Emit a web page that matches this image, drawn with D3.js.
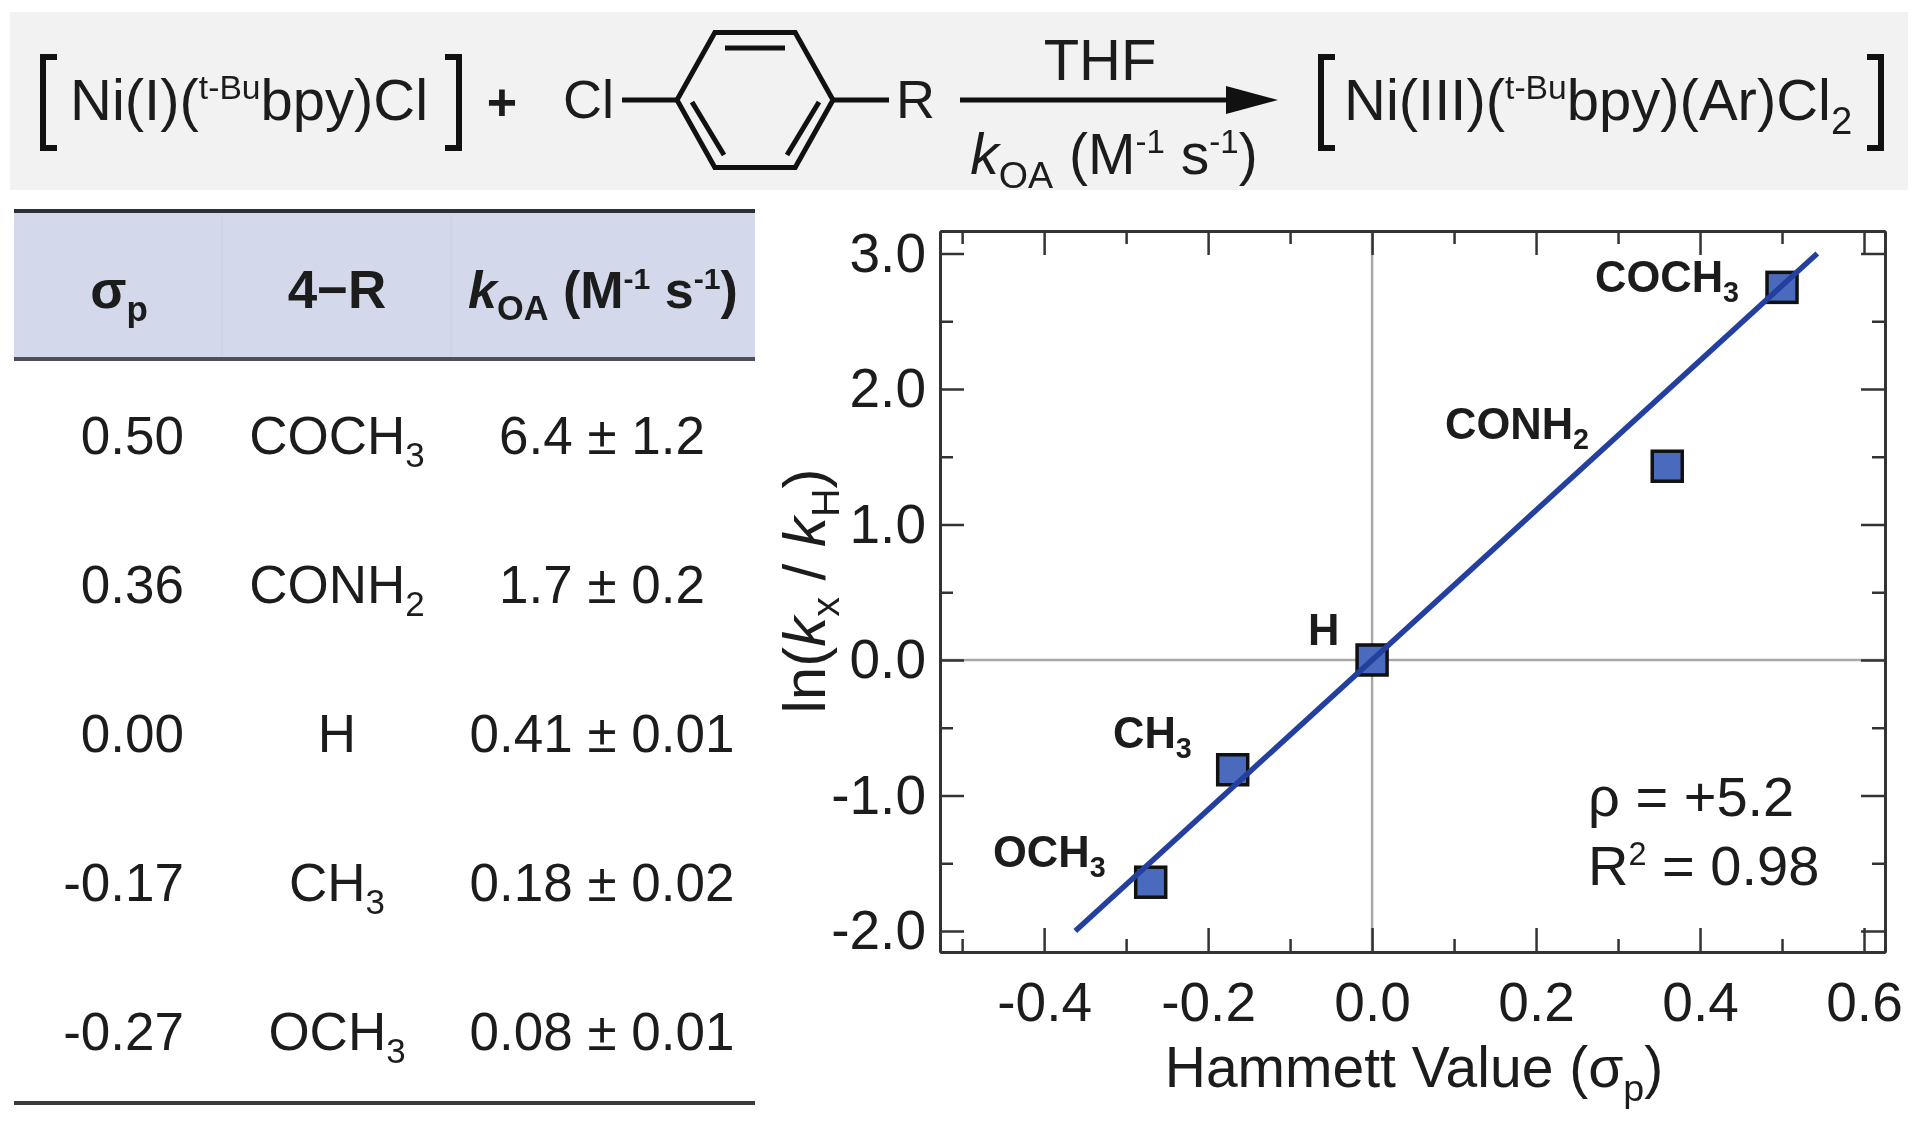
<!DOCTYPE html>
<html>
<head>
<meta charset="utf-8">
<script src="https://cdn.jsdelivr.net/npm/d3@7"></script>
<style>
	html, body { margin: 0; padding: 0; background: #fff; }
	svg { display: block; filter: blur(0.7px); }
	text { font-family: "Liberation Sans", Arial, sans-serif; fill: #1c1c1c; }
</style>
</head>
<body>
<svg id="fig" width="1920" height="1121"></svg>
<script>
// table + plot values
var sigmaLabels = ["0.50", "0.36", "0.00", "-0.17", "-0.27"];
var sigmaValues = [0.50, 0.36, 0.00, -0.17, -0.27];
var groups = ["COCH", "CONH", "H", "CH", "OCH"];
var groupSubs = ["3", "2", "", "3", "3"];
var rates = ["6.4 ± 1.2", "1.7 ± 0.2", "0.41 ± 0.01", "0.18 ± 0.02", "0.08 ± 0.01"];
var lnRatios = [2.75, 1.43, 0.00, -0.81, -1.64];

var fitX = [-0.362, 0.543];
var fitY = [-2.0, 3.0];

var xMajor = [-0.4, -0.2, 0.0, 0.2, 0.4, 0.6];
var xMinor = [-0.5, -0.3, -0.1, 0.1, 0.3, 0.5];
var yMajor = [-2, -1, 0, 1, 2, 3];
var yMinor = [-1.5, -0.5, 0.5, 1.5, 2.5];

var svg = d3.select("#fig");
var BANNER_FS = 58;
var TABLE_FS = 53;
var AXIS_FS = 55;

// text with sub/superscripts: parts are [string, "sub"|"sup"|"", italic]
function rich(parent, x, y, parts, size, anchor, weight) {
	var t = parent.append("text")
		.attr("x", x).attr("y", y)
		.attr("font-size", size)
		.attr("text-anchor", anchor || "start")
		.attr("font-weight", weight || "normal");
	var shift = 0;
	parts.forEach(function(p) {
		var want = p[1] == "sub" ? 0.24 * size : (p[1] == "sup" ? -0.36 * size : 0);
		var partSize = p[1] == "sub" ? size * 0.66 : (p[1] == "sup" ? size * 0.58 : size);
		t.append("tspan")
			.attr("dy", want - shift)
			.attr("font-size", partSize)
			.attr("font-style", p[2] ? "italic" : "normal")
			.text(p[0]);
		shift = want;
	});
	return t;
}

// ---- reaction banner
var banner = svg.append("g");
banner.append("rect")
	.attr("x", 10).attr("y", 12).attr("width", 1898).attr("height", 178)
	.attr("fill", "#f2f2f2");

function sqBracket(x0, w, open) {
	var bar = open ? x0 : x0 + w;
	var tip = open ? x0 + w : x0;
	banner.append("path")
		.attr("d", "M" + tip + ",57H" + bar + "V148H" + tip)
		.attr("fill", "none").attr("stroke", "#111").attr("stroke-width", 6);
}
sqBracket(43, 14, true);
sqBracket(445, 14, false);
sqBracket(1321, 14, true);
sqBracket(1867, 14, false);

rich(banner, 70, 120, [["Ni(I)(", ""], ["t-Bu", "sup"], ["bpy)Cl", ""]], BANNER_FS);
rich(banner, 502, 120, [["+", ""]], 52, "middle", "bold");
rich(banner, 563, 118, [["Cl", ""]], 54);
rich(banner, 896, 118, [["R", ""]], 54);

// benzene ring
var ringC = [755, 100];
var ringPts = d3.range(6).map(function(i) {
	var a = i * Math.PI / 3;
	return [ringC[0] + 78 * Math.cos(a) * (i % 3 == 0 ? 1 : 1.03), ringC[1] + 78 * Math.sin(a)];
});
banner.append("path")
	.attr("d", d3.line()(ringPts) + "Z")
	.attr("fill", "none").attr("stroke", "#111").attr("stroke-width", 5).attr("stroke-linejoin", "miter");
[[725, 48, 785, 48], [692, 102, 724, 155], [819, 102, 787, 155], [622, 100, 677, 100], [833, 100, 889, 100]].forEach(function(s) {
	banner.append("line")
		.attr("x1", s[0]).attr("y1", s[1]).attr("x2", s[2]).attr("y2", s[3])
		.attr("stroke", "#111").attr("stroke-width", 5);
});

// arrow
banner.append("line")
	.attr("x1", 960).attr("y1", 100).attr("x2", 1232).attr("y2", 100)
	.attr("stroke", "#111").attr("stroke-width", 5);
banner.append("path")
	.attr("d", d3.line()([[1226, 86], [1278, 100], [1226, 114]]) + "Z")
	.attr("fill", "#111");
rich(banner, 1100, 80, [["THF", ""]], BANNER_FS, "middle");
rich(banner, 1114, 174, [["k", "", true], ["OA", "sub"], [" (M", ""], ["-1", "sup"], [" s", ""], ["-1", "sup"], [")", ""]], 57, "middle");
rich(banner, 1344, 120, [["Ni(III)(", ""], ["t-Bu", "sup"], ["bpy)(Ar)Cl", ""], ["2", "sub"]], BANNER_FS);

// ---- table
var table = svg.append("g");
var tableX = [14, 755];
table.append("rect")
	.attr("x", tableX[0]).attr("y", 211).attr("width", tableX[1] - tableX[0]).attr("height", 148)
	.attr("fill", "#d3d9eb");
[222, 451].forEach(function(x) {
	table.append("line").attr("x1", x).attr("x2", x).attr("y1", 214).attr("y2", 357)
		.attr("stroke", "#ccd3e6").attr("stroke-width", 1.5);
});
table.append("line").attr("x1", tableX[0]).attr("x2", tableX[1]).attr("y1", 211).attr("y2", 211)
	.attr("stroke", "#2b2f36").attr("stroke-width", 4);
table.append("line").attr("x1", tableX[0]).attr("x2", tableX[1]).attr("y1", 359).attr("y2", 359)
	.attr("stroke", "#4a4f58").attr("stroke-width", 4);
table.append("line").attr("x1", tableX[0]).attr("x2", tableX[1]).attr("y1", 1103).attr("y2", 1103)
	.attr("stroke", "#3a3a3a").attr("stroke-width", 4);

rich(table, 119, 308, [["σ", ""], ["p", "sub"]], 53, "middle", "bold");
rich(table, 337, 308, [["4−R", ""]], 53, "middle", "bold");
rich(table, 603, 308, [["k", "", true], ["OA", "sub"], [" (M", ""], ["-1", "sup"], [" s", ""], ["-1", "sup"], [")", ""]], 52, "middle", "bold");

var rowY = d3.scalePoint().domain(d3.range(sigmaLabels.length)).range([454, 1050]);
sigmaLabels.forEach(function(s, i) {
	rich(table, 184, rowY(i), [[s, ""]], TABLE_FS, "end");
	rich(table, 337, rowY(i), groupSubs[i] ? [[groups[i], ""], [groupSubs[i], "sub"]] : [[groups[i], ""]], TABLE_FS, "middle");
	rich(table, 602, rowY(i), [[rates[i], ""]], TABLE_FS, "middle");
});

// ---- Hammett plot
var left = 940, right = 1885, top_ = 231, bottom = 952;
var x = d3.scaleLinear().domain([-0.527, 0.6256]).range([left, right]);
var y = d3.scaleLinear().domain([-2.155, 3.166]).range([bottom, top_]);

var plot = svg.append("g");

// zero lines
plot.append("line").attr("x1", x(0)).attr("x2", x(0)).attr("y1", top_).attr("y2", bottom)
	.attr("stroke", "#a8a8a8").attr("stroke-width", 2.5);
plot.append("line").attr("x1", left).attr("x2", right).attr("y1", y(0)).attr("y2", y(0))
	.attr("stroke", "#a8a8a8").attr("stroke-width", 2.5);

function drawAxis(axis, tx, ty) {
	var g = plot.append("g").attr("transform", "translate(" + tx + "," + ty + ")").call(axis);
	g.selectAll("path").attr("stroke", "#333").attr("stroke-width", 3);
	g.selectAll("line").attr("stroke", "#333").attr("stroke-width", 2.5);
	g.selectAll("text").attr("font-size", AXIS_FS).attr("font-family", null).attr("fill", "#1c1c1c");
	return g;
}
var blank = function() { return ""; };

drawAxis(d3.axisBottom(x).tickValues(xMajor).tickSizeInner(-24).tickSizeOuter(0).tickPadding(30)
	.tickFormat(function(d) { return d.toFixed(1); }), 0, bottom);
drawAxis(d3.axisBottom(x).tickValues(xMinor).tickSizeInner(-13).tickSizeOuter(0).tickFormat(blank), 0, bottom);
drawAxis(d3.axisTop(x).tickValues(xMajor).tickSizeInner(-24).tickSizeOuter(0).tickFormat(blank), 0, top_);
drawAxis(d3.axisTop(x).tickValues(xMinor).tickSizeInner(-13).tickSizeOuter(0).tickFormat(blank), 0, top_);

drawAxis(d3.axisLeft(y).tickValues(yMajor).tickSizeInner(-24).tickSizeOuter(0).tickPadding(14)
	.tickFormat(function(d) { return d.toFixed(1); }), left, 0);
drawAxis(d3.axisLeft(y).tickValues(yMinor).tickSizeInner(-13).tickSizeOuter(0).tickFormat(blank), left, 0);
drawAxis(d3.axisRight(y).tickValues(yMajor).tickSizeInner(-24).tickSizeOuter(0).tickFormat(blank), right, 0);
drawAxis(d3.axisRight(y).tickValues(yMinor).tickSizeInner(-13).tickSizeOuter(0).tickFormat(blank), right, 0);

// squares first, fit line over them
var pts = d3.range(sigmaValues.length);
plot.selectAll(".pt").data(pts).enter().append("rect")
	.attr("class", "pt")
	.attr("x", function(i) { return x(sigmaValues[i]) - 15; })
	.attr("y", function(i) { return y(lnRatios[i]) - 15; })
	.attr("width", 30).attr("height", 30)
	.attr("fill", "#4a6bbd").attr("stroke", "#111").attr("stroke-width", 3.5);

plot.append("path")
	.datum(fitX)
	.attr("d", d3.line().x(function(d) { return x(d); }).y(function(d, i) { return y(fitY[i]); }))
	.attr("fill", "none").attr("stroke", "#23409f").attr("stroke-width", 5.5);

// point labels
var labelX = [1595, 1445, 1308, 1113, 993];
var labelY = [292, 439, 645, 748, 867];
pts.forEach(function(i) {
	rich(plot, labelX[i], labelY[i], groupSubs[i] ? [[groups[i], ""], [groupSubs[i], "sub"]] : [[groups[i], ""]], 43.5, "start", "bold");
});

rich(plot, 1588, 816, [["ρ = +5.2", ""]], 56);
rich(plot, 1588, 885, [["R", ""], ["2", "sup"], [" = 0.98", ""]], 56);

rich(plot, 1414, 1087, [["Hammett Value (σ", ""], ["p", "sub"], [")", ""]], 57, "middle");
rich(plot, 0, 0, [["ln(", ""], ["k", "", true], ["x", "sub"], [" / ", ""], ["k", "", true], ["H", "sub"], [")", ""]], 60, "middle")
	.attr("transform", "translate(825,591) rotate(-90)");
</script>
</body>
</html>
